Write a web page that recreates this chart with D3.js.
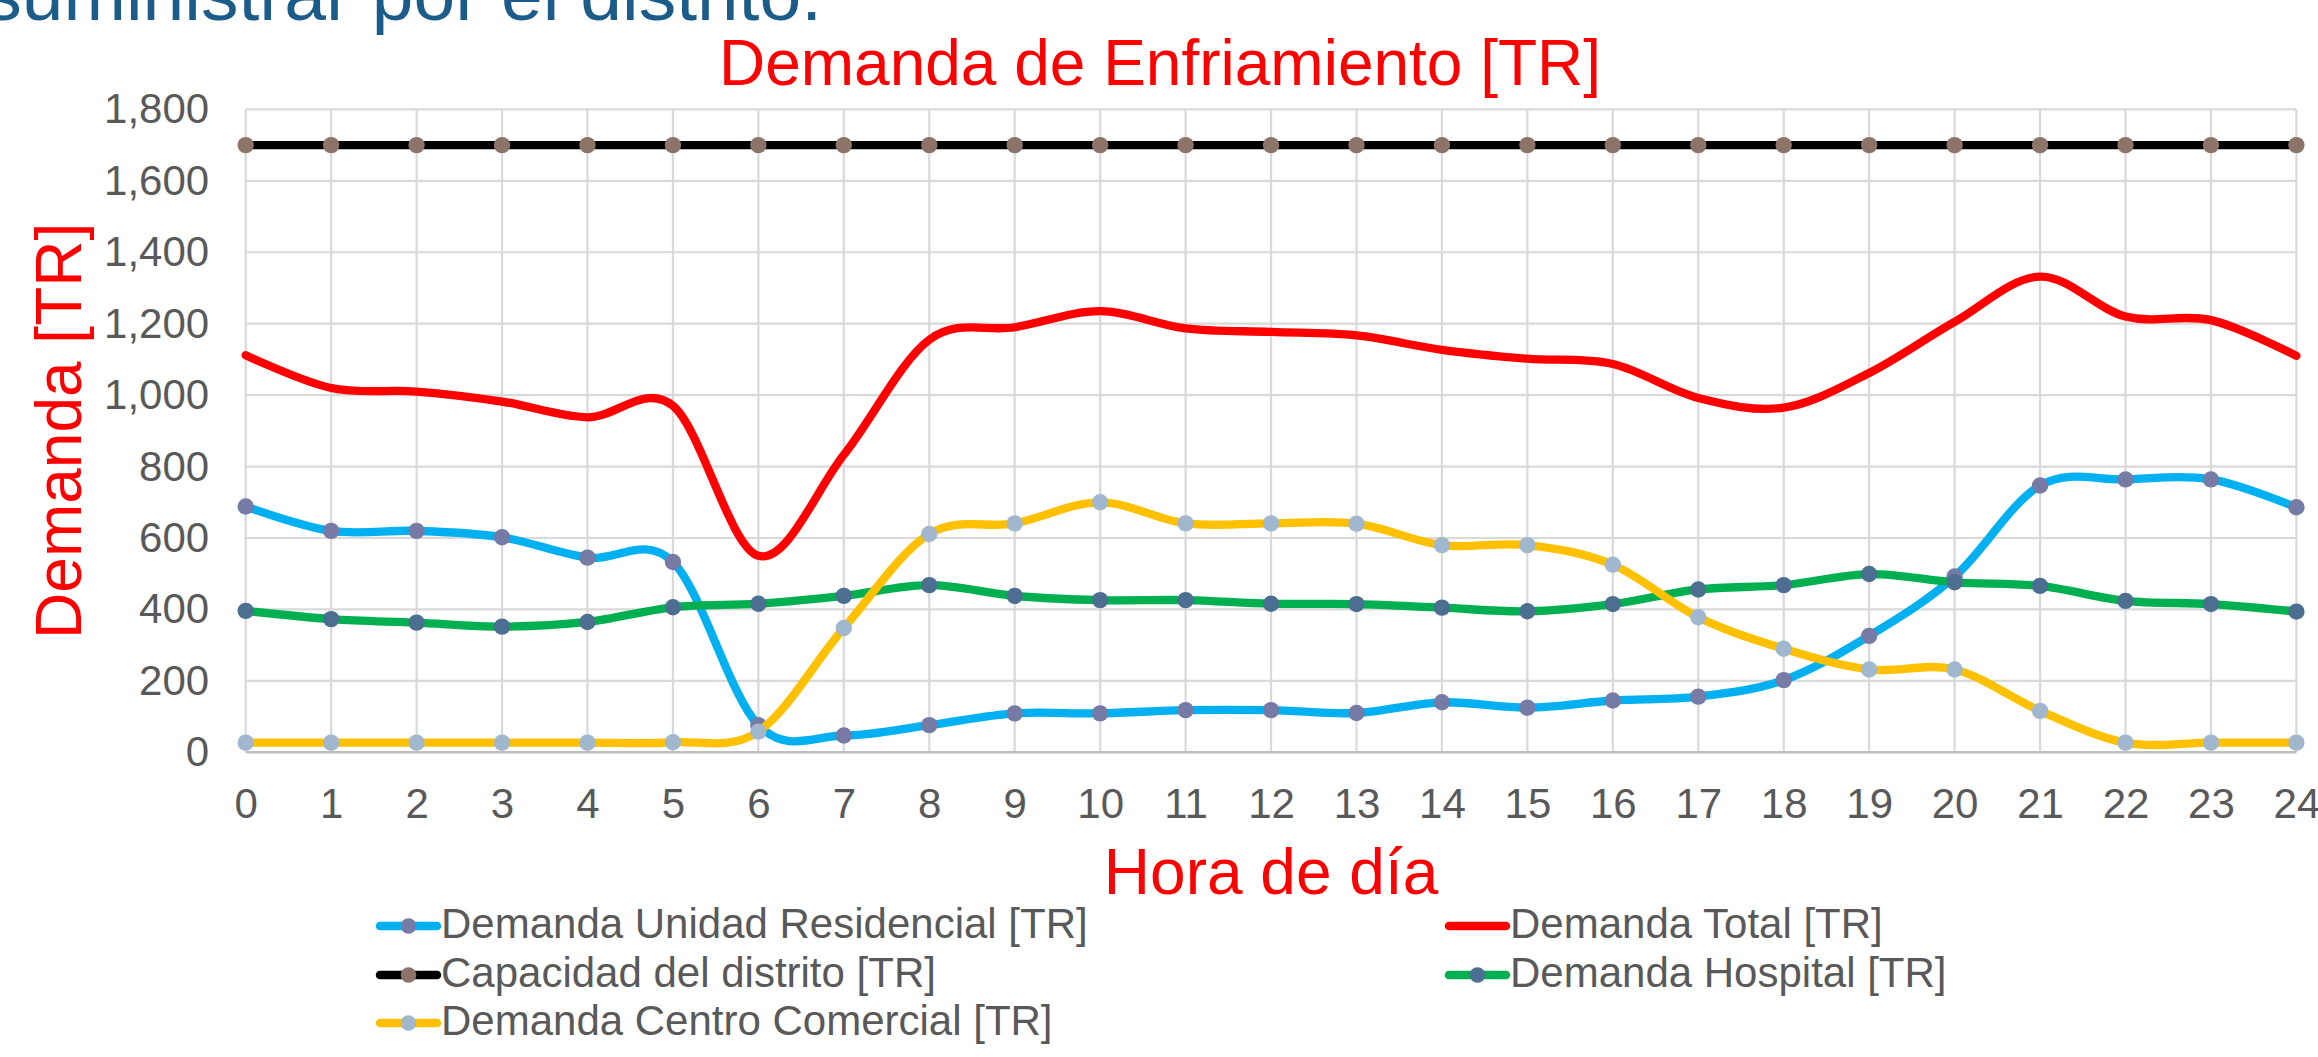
<!DOCTYPE html>
<html lang="es">
<head>
<meta charset="utf-8">
<title>Demanda de Enfriamiento [TR]</title>
<script src="https://d3js.org/d3.v7.min.js"></script>
<style>
  body { margin: 0; background: #fff; }
  svg { display: block; font-family: "Liberation Sans", Arial, sans-serif; }
</style>
</head>
<body>
<svg width="2318" height="1057"></svg>
<script>
// Data
var hours = d3.range(0, 25);
var residencial = [688, 620, 620, 602, 545, 533, 76, 47, 76, 109, 109, 118, 118, 110, 140, 125, 145, 156, 202, 326, 492, 747, 764, 764, 686];
var total = [1112, 1020, 1010, 982, 938, 970, 550, 833, 1155, 1190, 1235, 1187, 1177, 1167, 1127, 1102, 1087, 992, 965, 1062, 1205, 1332, 1220, 1210, 1110];
var capacidad = [1700, 1700, 1700, 1700, 1700, 1700, 1700, 1700, 1700, 1700, 1700, 1700, 1700, 1700, 1700, 1700, 1700, 1700, 1700, 1700, 1700, 1700, 1700, 1700, 1700];
var hospital = [396, 373, 363, 352, 365, 406, 416, 438, 468, 438, 426, 426, 416, 415, 405, 395, 415, 456, 468, 499, 476, 466, 424, 415, 394];
var comercial = [27, 27, 27, 27, 27, 28, 58, 348, 611, 641, 700, 641, 641, 640, 580, 580, 525, 378, 290, 232, 232, 116, 27, 27, 27];
var yTicks = [0, 200, 400, 600, 800, 1000, 1200, 1400, 1600, 1800];

var series = [
  { name: "Demanda Unidad Residencial [TR]", values: residencial, line: "#00B0F0", marker: "#757BA5" },
  { name: "Demanda Total [TR]", values: total, line: "#FF0000", marker: null },
  { name: "Capacidad del distrito [TR]", values: capacidad, line: "#000000", marker: "#8C7468" },
  { name: "Demanda Hospital [TR]", values: hospital, line: "#00B050", marker: "#4B6E91" },
  { name: "Demanda Centro Comercial [TR]", values: comercial, line: "#FFC000", marker: "#A0B7CE" }
];

var svg = d3.select("svg");
var plotLeft = 245.7, plotRight = 2296.4, plotTop = 109.4, plotBottom = 752.3;

var x = d3.scaleLinear().domain([0, 24]).range([plotLeft, plotRight]);
var y = d3.scaleLinear().domain([0, 1800]).range([plotBottom, plotTop]);

// subtitle text cut by the top edge (left over from the slide)
svg.append("text")
  .attr("x", 822).attr("y", 20)
  .attr("text-anchor", "end")
  .style("font-size", "75px")
  .attr("fill", "#1B5C8A")
  .text("suministrar por el distrito.");

// chart title
svg.append("text")
  .attr("x", 1160).attr("y", 85)
  .attr("text-anchor", "middle")
  .style("font-size", "64px")
  .attr("fill", "#FF0000")
  .text("Demanda de Enfriamiento [TR]");

// gridlines
svg.append("g").selectAll("line")
  .data(yTicks.slice(1))
  .enter().append("line")
  .attr("x1", plotLeft).attr("x2", plotRight)
  .attr("y1", function(d){ return y(d); })
  .attr("y2", function(d){ return y(d); })
  .attr("stroke", "#D9D9D9").attr("stroke-width", 2.2);

svg.append("g").selectAll("line")
  .data(hours)
  .enter().append("line")
  .attr("x1", function(d){ return x(d); })
  .attr("x2", function(d){ return x(d); })
  .attr("y1", plotTop).attr("y2", plotBottom)
  .attr("stroke", "#D9D9D9").attr("stroke-width", 2.2);

// bottom axis line
svg.append("line")
  .attr("x1", plotLeft).attr("x2", plotRight)
  .attr("y1", plotBottom).attr("y2", plotBottom)
  .attr("stroke", "#BFBFBF").attr("stroke-width", 2.5);

// axes (labels only)
var yAxis = svg.append("g")
  .attr("transform", "translate(" + plotLeft + ",0)")
  .call(d3.axisLeft(y).tickValues(yTicks).tickSize(0).tickPadding(36.5).tickFormat(d3.format(",")));
var xAxis = svg.append("g")
  .attr("transform", "translate(0," + plotBottom + ")")
  .call(d3.axisBottom(x).tickValues(hours).tickSize(0).tickPadding(35.5).tickFormat(d3.format("d")));

[yAxis, xAxis].forEach(function(a) {
  a.select(".domain").remove();
  a.selectAll("text")
    .attr("fill", "#595959")
    .style("font-size", "42px")
    .style("font-family", "'Liberation Sans', Arial, sans-serif");
});

// axis titles
svg.append("text")
  .attr("transform", "translate(81," + ((plotTop + plotBottom) / 2) + ") rotate(-90)")
  .attr("text-anchor", "middle")
  .style("font-size", "64px")
  .attr("fill", "#FF0000")
  .text("Demanda [TR]");

svg.append("text")
  .attr("x", (plotLeft + plotRight) / 2).attr("y", 894)
  .attr("text-anchor", "middle")
  .style("font-size", "64px")
  .attr("fill", "#FF0000")
  .text("Hora de día");

// smoothed lines like Excel
var line = d3.line()
  .x(function(d, i){ return x(hours[i]); })
  .y(function(d){ return y(d); })
  .curve(d3.curveCardinal.tension(0));

var groups = svg.append("g").selectAll("g")
  .data(series)
  .enter().append("g");

groups.append("path")
  .attr("d", function(s){ return line(s.values); })
  .attr("fill", "none")
  .attr("stroke", function(s){ return s.line; })
  .attr("stroke-width", 8.3)
  .attr("stroke-linejoin", "round")
  .attr("stroke-linecap", "round");

groups.filter(function(s){ return s.marker; })
  .selectAll("circle")
  .data(function(s){ return s.values.map(function(v, i){ return { v: v, h: hours[i], c: s.marker }; }); })
  .enter().append("circle")
  .attr("cx", function(d){ return x(d.h); })
  .attr("cy", function(d){ return y(d.v); })
  .attr("r", 8.2)
  .attr("fill", function(d){ return d.c; });

// legend: two columns, row-major
var legendCols = [380, 1449];
var legendRows = [938, 987, 1035];
var legend = svg.append("g").selectAll("g")
  .data(series)
  .enter().append("g")
  .attr("transform", function(s, i){
    return "translate(" + legendCols[i % 2] + "," + legendRows[Math.floor(i / 2)] + ")";
  });

legend.append("line")
  .attr("x1", 0).attr("x2", 57)
  .attr("y1", -12).attr("y2", -12)
  .attr("stroke", function(s){ return s.line; })
  .attr("stroke-width", 8.5)
  .attr("stroke-linecap", "round");

legend.filter(function(s){ return s.marker; })
  .append("circle")
  .attr("cx", 28.5).attr("cy", -12).attr("r", 7.8)
  .attr("fill", function(s){ return s.marker; });

legend.append("text")
  .attr("x", 61).attr("y", 0)
  .style("font-size", "42px")
  .attr("fill", "#595959")
  .text(function(s){ return s.name; });
</script>
</body>
</html>
